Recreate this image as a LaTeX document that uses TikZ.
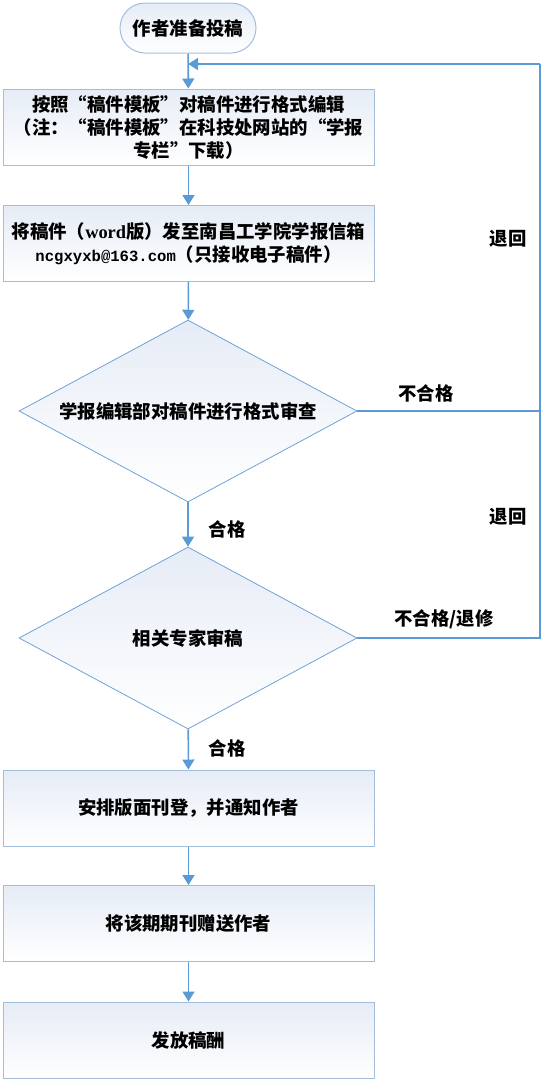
\documentclass[tikz,border=0pt]{standalone}
\usepackage{fontspec}
\setmainfont{Noto Sans CJK SC}
\newfontfamily\monof{Liberation Mono}
\newfontfamily\serf{Liberation Serif}
\usetikzlibrary{shapes.geometric,arrows.meta}
\definecolor{lineblue}{HTML}{5B9BD5}
\definecolor{boxborder}{HTML}{A3BEDD}
\definecolor{dborder}{HTML}{6FA2D6}
\definecolor{topfill}{HTML}{E6ECF6}
\definecolor{botfill}{HTML}{FFFFFF}
\tikzset{
  txt/.style={font=\fontsize{18.4}{23}\selectfont\bfseries, text=black},
  stepbox/.style={txt, draw=boxborder, line width=1pt, top color=topfill, bottom color=botfill,
    minimum width=371pt, minimum height=76pt, inner sep=0pt, align=center},
  decision/.style={txt, diamond, aspect=1.85, draw=dborder, line width=0.8pt, top color=topfill, bottom color=botfill,
    minimum width=338pt, minimum height=182pt, inner sep=0pt},
  terminal/.style={txt, draw=boxborder, line width=1pt, rounded corners=25pt, top color=topfill, bottom color=botfill,
    minimum width=136pt, minimum height=50pt, inner sep=0pt},
  conn/.style={draw=lineblue, line width=1.6pt},
  arr/.style={conn, -{Triangle[width=12pt,length=10pt]}},
  lbl/.style={txt, inner sep=0pt}
}
\begin{document}
\begin{tikzpicture}[x=1pt,y=-1pt]
\useasboundingbox (0,0) rectangle (553,1080);
\node[terminal] (start) at (188,28) {作者准备投稿};
\node[stepbox] (b1) at (188.5,127) {按照“稿件模板”对稿件进行格式编辑\\（注：“稿件模板”在科技处网站的“学报\\专栏”下载）};
\node[stepbox] (b2) at (188.5,243.5) {将稿件（{\serf word}版）发至南昌工学院学报信箱\\{\monof\fontsize{15.6}{23}\selectfont ncgxyxb@163.com}（只接收电子稿件）};
\node[decision] (d1) at (188,411) {学报编辑部对稿件进行格式审查};
\node[decision] (d2) at (188,638) {相关专家审稿};
\node[stepbox] (b3) at (188.5,808) {安排版面刊登，并通知作者};
\node[stepbox] (b4) at (188.5,923.5) {将该期期刊赠送作者};
\node[stepbox] (b5) at (188.5,1040) {发放稿酬};

\coordinate (rt) at (540,64);
\coordinate (join) at (188,64);
\coordinate (r1) at (540,411);
\coordinate (r2) at (540,638);

\draw[arr] (start) -- (b1);
\draw[arr] (b1) -- (b2);
\draw[arr] (b2) -- (d1);
\draw[arr] (d1) -- (d2);
\draw[arr] (d2) -- (b3);
\draw[arr] (b3) -- (b4);
\draw[arr] (b4) -- (b5);

\draw[conn] (d1.east) -- (r1);
\draw[conn] (d2.east) -- (r2) -- (rt);
\draw[arr] (rt) -- (join);

\node[lbl] (l1) at (227,529) {合格};
\node[lbl] (l2) at (227,748) {合格};
\node[lbl] (l3) at (426,393) {不合格};
\node[lbl] (l4) at (444,619) {不合格/退修};
\node[lbl] (l5) at (508,239) {退回};
\node[lbl] (l6) at (508,517) {退回};
\end{tikzpicture}
\end{document}
